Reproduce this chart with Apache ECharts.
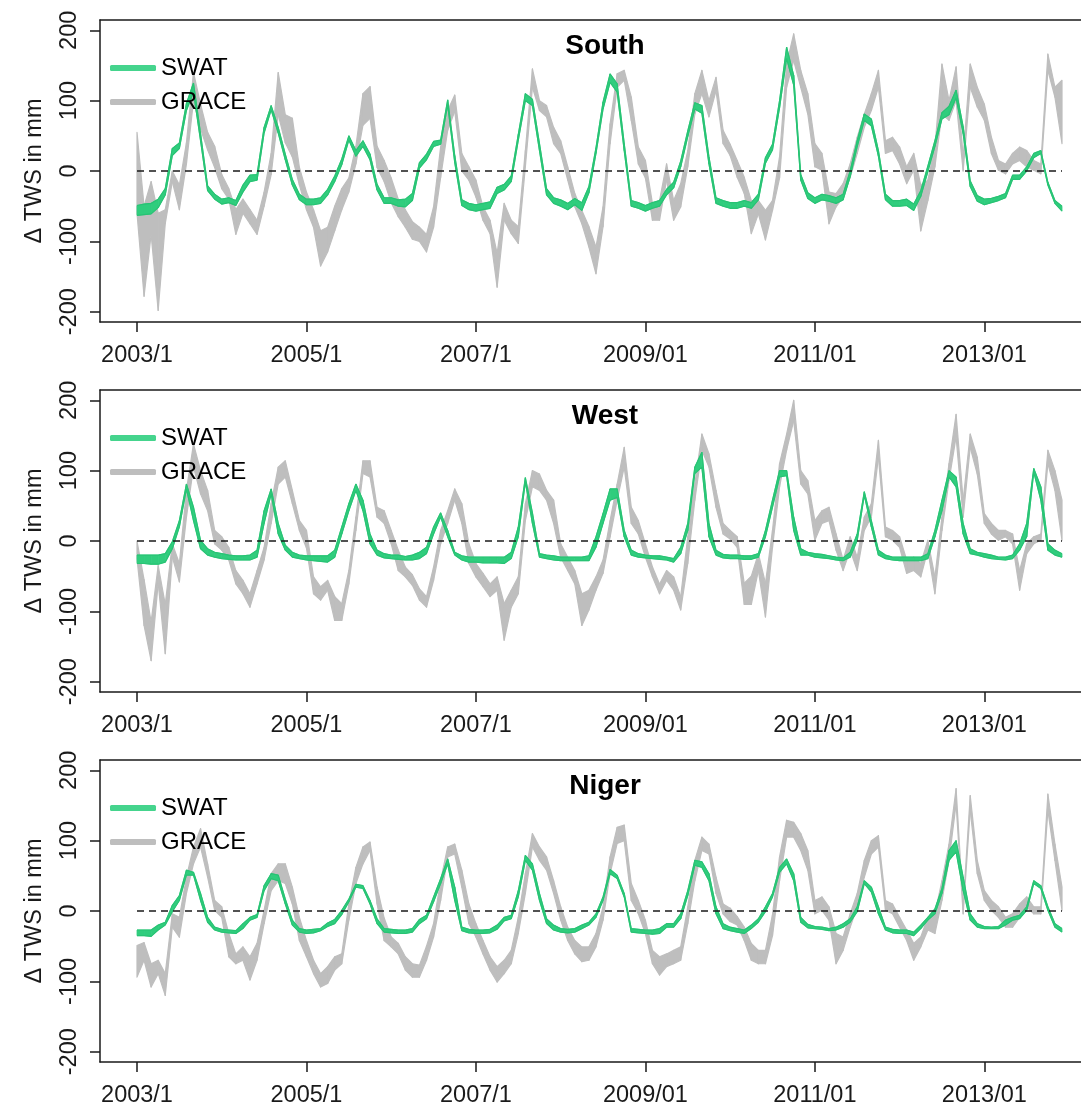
<!DOCTYPE html>
<html>
<head>
<meta charset="utf-8">
<title>Δ TWS: SWAT vs GRACE</title>
<script src="https://cdn.jsdelivr.net/npm/echarts@6/dist/echarts.min.js"></script>
<style>
  html, body { margin: 0; padding: 0; background: #ffffff; }
  #chart { width: 1081px; height: 1107px; }
</style>
</head>
<body>
<div id="chart"></div>
<script>
// Monthly terrestrial water storage anomalies (mm), January 2003 - December 2013.
// Each model/observation is shown as a band between a lower and an upper estimate.

const xTickMonths = [0, 24, 48, 72, 96, 120];
const xTickLabels = ['2003/1', '2005/1', '2007/1', '2009/01', '2011/01', '2013/01'];
const yTickValues = [-200, -100, 0, 100, 200];
const panelNames = ['South', 'West', 'Niger'];
const seriesNames = ['SWAT', 'GRACE'];

// ---------- South ----------
const southSwatHi = [
  -49,-47,-46,-40,-25,32,40,96,125,53,-21,-33,
  -40,-38,-42,-20,-6,-5,62,93,62,24,-12,-33,
  -40,-40,-38,-26,-7,17,50,29,43,24,-19,-38,
  -38,-41,-40,-32,12,24,42,44,101,22,-41,-46,
  -48,-46,-44,-23,-19,-7,52,110,102,39,-25,-38,
  -41,-46,-39,-45,-22,33,98,138,124,39,-42,-45,
  -49,-45,-42,-26,-16,14,57,97,93,20,-38,-42,
  -45,-45,-42,-45,-33,19,38,100,176,136,-5,-31,
  -38,-33,-35,-38,-33,0,43,81,74,29,-33,-42,
  -42,-40,-47,-28,7,43,83,92,115,63,-14,-35,
  -40,-39,-36,-32,-6,-6,6,25,29,-16,-42,-50
];
const southSwatLo = [
  -63,-62,-61,-52,-34,22,32,86,112,43,-28,-40,
  -47,-45,-49,-30,-15,-13,54,87,54,16,-20,-41,
  -48,-48,-46,-34,-15,9,44,21,35,16,-27,-46,
  -46,-50,-51,-42,4,16,35,38,94,12,-49,-55,
  -57,-55,-53,-32,-27,-15,44,100,93,29,-34,-46,
  -50,-55,-48,-56,-31,25,88,126,112,29,-50,-53,
  -57,-53,-50,-34,-24,6,49,88,82,10,-46,-50,
  -53,-53,-50,-53,-41,11,30,90,160,122,-13,-39,
  -46,-41,-43,-46,-41,-8,35,72,64,21,-41,-50,
  -50,-49,-56,-36,-1,35,74,80,104,53,-22,-43,
  -48,-45,-42,-38,-12,-12,0,19,25,-20,-46,-57
];
const southGraceHi = [
  55,-50,-15,-60,-55,0,-20,40,140,95,55,35,
  -5,-25,-55,-40,-55,-70,-30,25,140,80,75,5,
  -30,-55,-85,-80,-50,-25,-10,35,110,120,35,15,
  -10,-40,-55,-72,-80,-90,-51,34,86,108,25,6,
  -13,-51,-70,-117,-46,-70,-79,29,145,100,93,62,
  43,6,-32,-56,-79,-108,-51,67,138,143,105,34,
  15,-46,-42,10,-42,-18,29,110,143,100,133,58,
  38,15,-9,-42,-42,-56,-42,20,152,195,143,110,
  39,25,-30,-32,-18,10,48,81,110,143,43,48,
  34,6,25,-20,-13,34,152,100,148,20,152,119,
  95,48,15,10,25,34,29,15,10,166,119,129
];
const southGraceLo = [
  -60,-178,-90,-198,-75,-15,-55,10,100,60,30,5,
  -25,-40,-90,-60,-75,-90,-50,-5,80,40,20,-20,
  -55,-80,-135,-115,-85,-55,-30,10,65,75,5,-15,
  -45,-65,-80,-97,-100,-115,-80,-9,58,85,0,-13,
  -37,-70,-89,-165,-70,-89,-103,6,119,86,77,39,
  25,-13,-51,-75,-108,-146,-79,39,119,129,72,10,
  -10,-70,-70,-13,-70,-51,6,81,110,77,114,39,
  22,-9,-32,-89,-61,-98,-56,-10,119,157,119,81,
  6,1,-75,-51,-37,-9,25,62,86,119,25,29,
  10,-18,1,-85,-42,6,81,72,100,0,119,91,
  72,25,1,-4,10,15,6,1,-4,143,105,39
];

// ---------- West ----------
const westSwatHi = [
  -20,-20,-20,-20,-18,-1,29,81,48,1,-11,-16,
  -18,-20,-21,-21,-20,-13,43,74,25,-6,-16,-20,
  -21,-21,-21,-21,-13,20,53,81,58,10,-13,-18,
  -20,-20,-22,-20,-16,-9,20,40,15,-16,-21,-23,
  -23,-23,-23,-23,-23,-16,20,90,40,-18,-20,-21,
  -23,-23,-23,-23,-21,6,39,74,74,15,-13,-18,
  -20,-21,-21,-23,-25,-9,25,105,126,25,-13,-19,
  -20,-20,-21,-21,-18,15,58,100,100,34,-11,-16,
  -18,-19,-21,-23,-24,-16,10,70,29,-13,-20,-23,
  -23,-23,-23,-23,-18,15,58,100,91,25,-11,-16,
  -18,-20,-23,-23,-20,-4,25,103,77,-4,-13,-18
];
const westSwatLo = [
  -32,-32,-33,-33,-30,-11,20,74,29,-11,-20,-23,
  -25,-26,-27,-27,-27,-23,25,67,10,-13,-23,-25,
  -27,-28,-29,-30,-23,10,43,72,43,-4,-20,-24,
  -25,-26,-27,-27,-25,-18,10,34,6,-20,-27,-30,
  -30,-31,-31,-31,-32,-25,6,84,25,-23,-25,-27,
  -28,-28,-28,-28,-28,-9,25,58,62,6,-20,-23,
  -24,-25,-26,-27,-30,-18,15,96,105,6,-20,-24,
  -25,-25,-26,-26,-23,6,48,91,93,15,-20,-20,
  -23,-24,-25,-27,-28,-23,1,65,20,-20,-25,-27,
  -28,-28,-28,-28,-25,6,43,91,77,10,-18,-20,
  -23,-25,-26,-27,-25,-13,6,98,58,-13,-20,-23
];
const westGraceHi = [
  0,-55,-115,-35,-90,-4,-32,72,138,100,72,15,
  6,-9,-42,-56,-75,-42,-9,53,105,114,72,29,
  15,-51,-65,-56,-79,-89,-42,34,114,114,48,43,
  15,-13,-37,-48,-68,-79,-37,15,43,74,53,-4,
  -32,-46,-61,-51,-89,-70,-51,53,100,95,72,58,
  -4,-23,-42,-75,-70,-51,-27,29,81,133,48,29,
  -4,-37,-61,-42,-51,-79,6,81,152,124,72,25,
  15,6,-60,-50,-18,-60,15,110,152,200,100,86,
  29,43,48,10,-27,6,-23,34,53,143,20,15,
  6,-27,-23,-32,1,-51,34,110,180,58,152,119,
  39,25,15,15,10,-42,-4,6,10,129,100,58
];
const westGraceLo = [
  -25,-120,-170,-60,-160,-23,-58,34,105,67,43,-4,
  -13,-27,-61,-75,-94,-61,-27,25,81,91,53,15,
  -10,-75,-84,-70,-113,-113,-61,15,96,91,34,25,
  -4,-42,-51,-63,-84,-94,-56,-4,25,58,25,-32,
  -51,-65,-79,-70,-141,-94,-75,29,77,72,58,25,
  -23,-42,-61,-120,-98,-70,-46,6,58,105,25,10,
  -23,-51,-75,-56,-70,-98,-32,58,129,105,48,10,
  3,-9,-90,-90,-42,-108,-9,77,129,171,81,67,
  1,25,29,-13,-42,-13,-42,15,34,119,6,1,
  -9,-46,-42,-51,-13,-75,15,86,148,34,133,95,
  25,10,1,6,-4,-70,-18,-4,1,110,72,1
];

// ---------- Niger ----------
const nigerSwatHi = [
  -27,-27,-27,-20,-16,8,22,58,55,25,-9,-23,
  -26,-27,-28,-18,-9,-5,36,53,51,17,-13,-25,
  -27,-26,-25,-17,-12,1,17,38,36,15,-11,-25,
  -26,-27,-27,-25,-12,-6,20,46,74,34,-23,-26,
  -27,-27,-26,-20,-9,-6,29,79,67,25,-11,-20,
  -25,-26,-25,-20,-16,-4,20,59,51,25,-25,-26,
  -27,-27,-25,-18,-18,-4,29,72,70,53,6,-18,
  -23,-25,-27,-20,-11,6,25,62,74,53,-9,-19,
  -22,-23,-25,-23,-18,-11,6,43,34,6,-23,-26,
  -27,-27,-30,-20,-9,3,32,86,100,48,-4,-18,
  -22,-23,-22,-13,-9,-6,6,43,36,6,-18,-25
];
const nigerSwatLo = [
  -35,-35,-36,-27,-20,-1,15,51,51,15,-16,-27,
  -30,-31,-32,-25,-13,-9,29,46,43,10,-20,-30,
  -32,-31,-28,-22,-18,-5,13,34,32,10,-18,-30,
  -31,-32,-32,-30,-18,-11,13,39,67,15,-28,-31,
  -32,-32,-31,-26,-14,-11,20,72,58,15,-18,-27,
  -30,-31,-30,-25,-20,-9,15,53,46,20,-30,-31,
  -32,-33,-32,-23,-23,-11,22,65,62,43,-4,-25,
  -28,-30,-32,-25,-16,-1,20,55,67,43,-16,-24,
  -25,-26,-28,-27,-23,-16,-1,39,27,-4,-27,-31,
  -32,-32,-35,-25,-13,-4,25,72,84,29,-13,-23,
  -25,-25,-25,-20,-13,-11,1,39,32,1,-23,-30
];
const nigerGraceHi = [
  -49,-45,-75,-70,-89,-4,-9,48,91,117,67,15,
  6,-32,-61,-51,-65,-46,1,53,67,67,34,-9,
  -42,-70,-89,-79,-65,-61,10,62,91,98,34,-10,
  -37,-46,-65,-75,-77,-50,-18,43,91,95,58,10,
  -18,-42,-65,-79,-70,-56,-9,53,110,91,77,43,
  6,-23,-42,-51,-51,-32,6,77,119,122,39,15,
  -13,-56,-65,-61,-56,-51,6,72,105,95,48,10,
  4,-8,-23,-46,-56,-56,-5,77,129,126,110,86,
  15,20,6,-32,-37,-4,25,72,100,107,15,10,
  -9,-27,-46,-37,-9,-4,43,95,174,6,164,72,
  29,15,6,-9,-4,10,20,6,6,166,95,34
];
const nigerGraceLo = [
  -94,-70,-108,-89,-120,-23,-37,25,67,91,48,1,
  -9,-65,-75,-70,-98,-70,-18,29,43,39,10,-42,
  -65,-89,-108,-103,-84,-75,-13,39,67,86,10,-42,
  -51,-61,-84,-94,-94,-70,-37,15,77,81,34,-18,
  -37,-61,-84,-101,-89,-75,-32,25,91,72,58,25,
  -13,-42,-61,-72,-70,-51,-13,53,96,100,15,-4,
  -32,-75,-91,-79,-75,-70,-18,43,86,81,25,-4,
  -15,-20,-42,-70,-75,-75,-35,43,105,105,86,58,
  -4,1,-13,-75,-56,-23,6,48,81,91,1,-4,
  -23,-42,-70,-51,-27,-32,15,72,152,-4,143,53,
  15,1,-9,-23,-23,-9,6,-4,-4,143,72,1
];

const panels = [
  { swatHi: southSwatHi, swatLo: southSwatLo, graceHi: southGraceHi, graceLo: southGraceLo },
  { swatHi: westSwatHi,  swatLo: westSwatLo,  graceHi: westGraceHi,  graceLo: westGraceLo },
  { swatHi: nigerSwatHi, swatLo: nigerSwatLo, graceHi: nigerGraceHi, graceLo: nigerGraceLo }
];

// ---------- layout & style ----------
const FONT = '"Liberation Sans", Arial, Helvetica, sans-serif';
const INK = '#1a1a1a';
const GREEN = '#30cd7d';
const GREEN_EDGE = '#28c374';
const GREEN_LEGEND = '#45d48d';
const GREY = '#bebebe';
const gridTops = [20, 390, 760];
const GRID_LEFT = 100, GRID_W = 999, GRID_H = 302;
const X_MIN = -5.24, X_MAX = 136.24;   // 4% padding around the monthly range
const Y_MIN = -214.6, Y_MAX = 214.6;
const FRAME = { show: true, onZero: false, lineStyle: { color: INK, width: 1.5 } };

const chart = echarts.init(document.getElementById('chart'), null, { renderer: 'canvas' });

// One polygon per month-to-month step of a band: [i, lo_i, hi_i, i+1, lo_i+1, hi_i+1]
function bandSegments(lo, hi) {
  const out = [];
  for (let i = 0; i < lo.length - 1; i++) {
    out.push([i, lo[i], hi[i], i + 1, lo[i + 1], hi[i + 1]]);
  }
  return out;
}

function bandRenderer(color, strokeWidth) {
  return function (params, api) {
    const a = api.coord([api.value(0), api.value(1)]);
    const b = api.coord([api.value(3), api.value(4)]);
    const c = api.coord([api.value(3), api.value(5)]);
    const d = api.coord([api.value(0), api.value(2)]);
    return {
      type: 'polygon',
      shape: { points: [a, b, c, d] },
      style: { fill: color, stroke: color, lineWidth: strokeWidth, lineJoin: 'round' },
      silent: true
    };
  };
}

const grids = [], xAxes = [], yAxes = [], titles = [], legends = [], series = [];

panels.forEach((p, k) => {
  const top = gridTops[k];
  grids.push({
    left: GRID_LEFT, top: top, width: GRID_W, height: GRID_H,
    outerBoundsMode: 'none', containLabel: false, show: false
  });
  // bottom axis: ticks, labels and the lower frame edge
  xAxes.push({
    type: 'value', gridIndex: k, position: 'bottom', min: X_MIN, max: X_MAX,
    splitLine: { show: false },
    axisLine: FRAME,
    axisTick: { show: true, customValues: xTickMonths, length: 10, lineStyle: { color: INK, width: 1.5 } },
    axisLabel: {
      customValues: xTickMonths, margin: 22, fontSize: 23.5, color: INK, fontFamily: FONT,
      hideOverlap: false,
      formatter: v => xTickLabels[xTickMonths.indexOf(Math.round(v))] || ''
    }
  });
  // top frame edge only
  xAxes.push({
    type: 'value', gridIndex: k, position: 'top', min: X_MIN, max: X_MAX,
    splitLine: { show: false }, axisLine: FRAME,
    axisTick: { show: false }, axisLabel: { show: false }
  });
  yAxes.push({
    type: 'value', gridIndex: k, min: Y_MIN, max: Y_MAX,
    splitLine: { show: false },
    axisLine: FRAME,
    axisTick: { show: true, customValues: yTickValues, length: 10, lineStyle: { color: INK, width: 1.5 } },
    axisLabel: {
      customValues: yTickValues, rotate: 90, margin: 18, fontSize: 23.5, color: INK, fontFamily: FONT,
      formatter: v => String(Math.round(v))
    },
    name: 'Δ TWS in mm', nameLocation: 'middle', nameRotate: 90, nameGap: 53,
    nameMoveOverlap: false,
    nameTextStyle: { fontSize: 23.5, color: INK, fontFamily: FONT }
  });
  titles.push({
    text: panelNames[k], left: 600, top: top + 7, textAlign: 'center',
    textStyle: { fontSize: 28, fontWeight: 'bold', color: '#000', fontFamily: FONT }
  });
  legends.push({
    orient: 'vertical', left: 110, top: top + 36, padding: 0, itemGap: 10,
    itemWidth: 46, itemHeight: 6, icon: 'roundRect', selectedMode: false,
    data: [
      { name: seriesNames[0], itemStyle: { color: GREEN_LEGEND, borderWidth: 0 } },
      { name: seriesNames[1], itemStyle: { color: GREY, borderWidth: 0 } }
    ],
    textStyle: { fontSize: 24, lineHeight: 24, color: '#000', fontFamily: FONT }
  });

  const xi = 2 * k;   // bottom x axis of this panel

  // GRACE band
  series.push({
    type: 'custom', name: seriesNames[1], xAxisIndex: xi, yAxisIndex: k,
    data: bandSegments(p.graceLo, p.graceHi),
    encode: { x: [0, 3], y: [1, 2, 4, 5] },
    renderItem: bandRenderer(GREY, 1.2), itemStyle: { color: GREY },
    clip: true, silent: true, z: 1
  });
  // SWAT band with its two edge lines
  series.push({
    type: 'custom', name: seriesNames[0], xAxisIndex: xi, yAxisIndex: k,
    data: bandSegments(p.swatLo, p.swatHi),
    encode: { x: [0, 3], y: [1, 2, 4, 5] },
    renderItem: bandRenderer(GREEN, 0.8), itemStyle: { color: GREEN },
    clip: true, silent: true, z: 2
  });
  [p.swatLo, p.swatHi].forEach(edge => {
    series.push({
      type: 'line', name: seriesNames[0] + ' edge', xAxisIndex: xi, yAxisIndex: k,
      data: edge.map((v, i) => [i, v]),
      symbol: 'none', silent: true, z: 2,
      lineStyle: { color: GREEN_EDGE, width: 1.2 }
    });
  });

  // dashed zero reference across the monthly range
  series.push({
    type: 'line', name: 'zero', xAxisIndex: xi, yAxisIndex: k,
    data: [[0, 0], [p.swatHi.length - 1, 0]],
    symbol: 'none', silent: true, z: 3,
    lineStyle: { color: INK, width: 1.6, type: [7, 5] }
  });
});

chart.setOption({
  animation: false,
  backgroundColor: '#ffffff',
  textStyle: { fontFamily: FONT },
  title: titles,
  legend: legends,
  grid: grids,
  xAxis: xAxes,
  yAxis: yAxes,
  series: series
});
</script>
</body>
</html>
